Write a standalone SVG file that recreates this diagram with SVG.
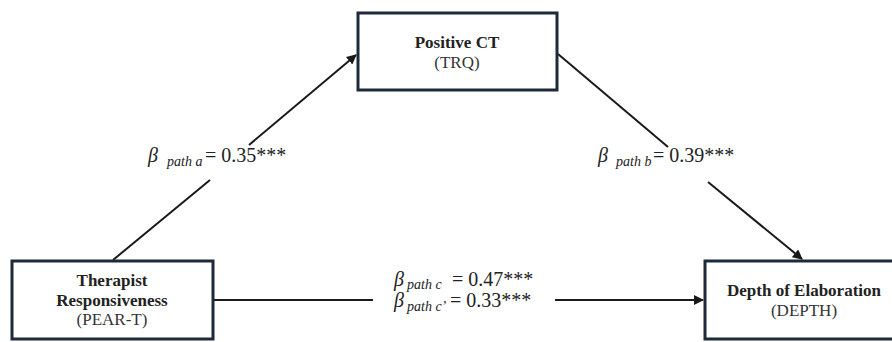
<svg xmlns="http://www.w3.org/2000/svg" width="892" height="342" viewBox="0 0 892 342">
<style>
.box{fill:#fff;stroke:#1c2a3a;stroke-width:3}
.t{font-family:"Liberation Serif","DejaVu Serif",serif;fill:#222;text-anchor:middle}
.b{font-weight:bold;font-size:17px}
.n{font-size:17px;fill:#333}
.lbl{font-family:"Liberation Serif","DejaVu Serif",serif;fill:#222;font-size:20px}
.sub{font-style:italic;font-size:14px}
.beta{font-style:italic;font-size:20px}
.ln{stroke:#1a1a1a;stroke-width:2;fill:none}
</style>
<defs>
<marker id="ah" viewBox="0 0 10 10" refX="9" refY="5" markerWidth="5" markerHeight="5" orient="auto" markerUnits="strokeWidth">
<path d="M0,0 L10,5 L0,10 z" fill="#1a1a1a"/>
</marker>
</defs>
<rect width="892" height="342" fill="#fff"/>
<g id="connectors">
<line class="ln" x1="113" y1="260" x2="210" y2="180"/>
<line class="ln" x1="249" y1="145" x2="356" y2="55" marker-end="url(#ah)"/>
<line class="ln" x1="558" y1="54" x2="668" y2="147"/>
<line class="ln" x1="708" y1="182" x2="802" y2="259" marker-end="url(#ah)"/>
<line class="ln" x1="213" y1="300" x2="373" y2="300"/>
<line class="ln" x1="555" y1="300" x2="703" y2="300" marker-end="url(#ah)"/>
</g>
<g id="node-positive-ct">
<rect class="box" x="358" y="13" width="199" height="77"/>
<text class="t b" x="457" y="48">Positive CT</text>
<text class="t n" x="457" y="68">(TRQ)</text>
</g>
<g id="node-therapist">
<rect class="box" x="12" y="261" width="201" height="78"/>
<text class="t b" x="112" y="286">Therapist</text>
<text class="t b" x="112" y="306">Responsiveness</text>
<text class="t n" x="112" y="325">(PEAR-T)</text>
</g>
<g id="node-depth">
<rect class="box" x="705" y="261" width="200" height="78"/>
<text class="t b" x="804" y="296">Depth of Elaboration</text>
<text class="t n" x="804" y="316">(DEPTH)</text>
</g>
<g id="labels">
<text class="lbl" x="148" y="162"><tspan class="beta">β</tspan><tspan class="sub" x="167" y="166">path a</tspan><tspan x="205" y="162">= 0.35***</tspan></text>
<text class="lbl" x="598" y="162"><tspan class="beta">β</tspan><tspan class="sub" x="616" y="166">path b</tspan><tspan x="653" y="162">= 0.39***</tspan></text>
<text class="lbl" x="394" y="286"><tspan class="beta">β</tspan><tspan class="sub" x="407" y="289">path c</tspan><tspan x="452" y="286">= 0.47***</tspan></text>
<text class="lbl" x="394" y="307"><tspan class="beta">β</tspan><tspan class="sub" x="407" y="311">path c’</tspan><tspan x="450" y="307">= 0.33***</tspan></text>
</g>
</svg>
